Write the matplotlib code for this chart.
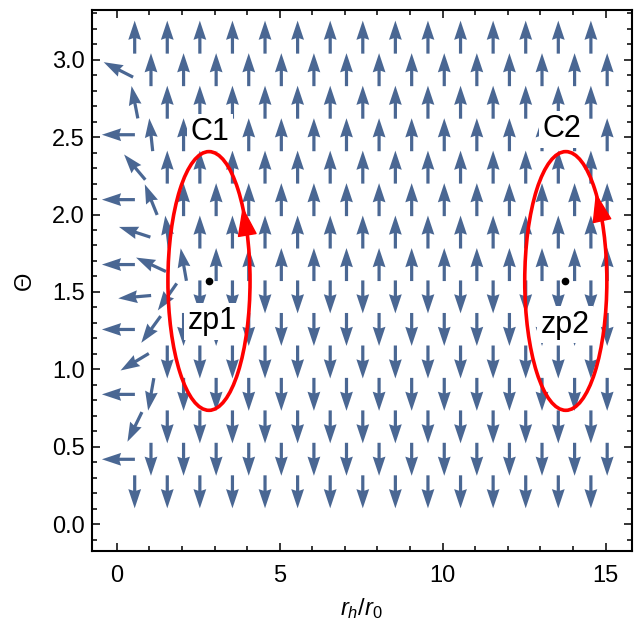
import numpy as np
import matplotlib.pyplot as plt
from matplotlib.patches import Ellipse

plt.rcParams['font.family'] = ['Liberation Sans', 'DejaVu Sans']
plt.rcParams['mathtext.fontset'] = 'custom'
plt.rcParams['mathtext.rm'] = 'Liberation Sans'
plt.rcParams['mathtext.it'] = 'Liberation Sans:italic'

# vector field on a staggered grid: one string per row of arrows (top to bottom)
theta_rows = [3.145, 2.935, 2.725, 2.515, 2.306, 2.096, 1.887, 1.677,
              1.468, 1.258, 1.048, 0.839, 0.629, 0.420, 0.210]
x_start = [0.55, 0.05, 0.55, 0.05, 0.55, 0.05, 0.55, 0.05,
           0.55, 0.05, 0.55, 0.05, 0.55, 0.05, 0.55]
rows = [
    "uuuuuuuuuuuuuuu",
    "auuuuuuuuuuuuuuu",
    "buuuuuuuuuuuuuu",
    "lcuuuuuuuuuuuuuu",
    "euuuuuuuuuuuuuu",
    "lfuuuuuuuuuuuuuu",
    "ghuuuuuuuuuuuuu",
    "lijuuuuuuuuuuuuu",
    "kmddddddddddddd",
    "lndddddddddddddd",
    "odddddddddddddd",
    "lpdddddddddddddd",
    "qdddddddddddddd",
    "lddddddddddddddd",
    "ddddddddddddddd",
]
# arrow direction (degrees) for each letter
angle = {'u': 90, 'd': 270, 'l': 180,
         'a': 153, 'b': 101, 'c': 96, 'e': 130, 'f': 112, 'g': 162,
         'h': 97, 'i': 155, 'j': 100, 'k': 185, 'm': 235, 'n': 234,
         'o': 211, 'p': 260, 'q': 244}

# zero points and the contours around them
zp_r = [2.84, 13.77]
zp_theta = [1.571, 1.571]
zp_names = ['zp1', 'zp2']
loop_names = ['C1', 'C2']
loop_r = [2.83, 13.78]
loop_half_w = [1.26, 1.26]
loop_half_h = [0.835, 0.835]
head_from = [20, 27]   # parametric angle of arrowhead base / tip (deg)
head_to = [35, 43]

arrow_col = '#4a6793'

xs, ys, us, vs = [], [], [], []
for th, x0, row in zip(theta_rows, x_start, rows):
    for k, c in enumerate(row):
        a = np.deg2rad(angle[c])
        xs.append(x0 + k)
        ys.append(th)
        us.append(np.cos(a))
        vs.append(np.sin(a))

fig = plt.figure(figsize=(6.38, 6.34), dpi=100)
ax = fig.add_axes([0.1442, 0.1314, 0.8458, 0.8528])

ax.quiver(xs, ys, us, vs, angles='uv', pivot='middle', scale_units='inches',
          scale=1 / 0.33, units='dots', width=3.2, headwidth=4.0,
          headlength=6.0, headaxislength=5.5, color=arrow_col, zorder=2)

for i in range(2):
    cx, cy = loop_r[i], zp_theta[i]
    aw, bh = loop_half_w[i], loop_half_h[i]
    ax.add_patch(Ellipse((cx, cy), 2 * aw, 2 * bh, fill=False, ec='red',
                         lw=2.6, zorder=5))
    t1, t2 = np.deg2rad(head_from[i]), np.deg2rad(head_to[i])
    ax.annotate('', xy=(cx + aw * np.cos(t2), cy + bh * np.sin(t2)),
                xytext=(cx + aw * np.cos(t1), cy + bh * np.sin(t1)),
                arrowprops=dict(arrowstyle='-|>,head_length=0.95,head_width=0.32',
                                mutation_scale=20, color='red', lw=1,
                                shrinkA=0, shrinkB=0), zorder=6)

ax.plot(zp_r, zp_theta, 'o', color='black', ms=4.5, zorder=6)

box = dict(boxstyle='square,pad=0.12', fc='white', ec='none')
ax.text(2.87, 2.53, loop_names[0], fontsize=22, ha='center', va='center', bbox=box, zorder=4)
ax.text(13.66, 2.55, loop_names[1], fontsize=22, ha='center', va='center', bbox=box, zorder=4)
ax.text(2.93, 1.31, zp_names[0], fontsize=22, ha='center', va='center', bbox=box, zorder=4)
ax.text(13.75, 1.29, zp_names[1], fontsize=22, ha='center', va='center', bbox=box, zorder=4)

ax.set_xlim(-0.76, 15.8)
ax.set_ylim(-0.17, 3.32)
ax.set_xticks([0, 5, 10, 15])
ax.set_xticks(np.arange(0, 16, 1), minor=True)
ax.set_yticks(np.arange(0, 3.01, 0.5))
ax.set_yticks(np.arange(-0.1, 3.31, 0.1), minor=True)
ax.set_yticklabels(['%.1f' % v for v in np.arange(0, 3.01, 0.5)])
ax.tick_params(which='both', direction='in', top=True, right=True,
               labelsize=17, width=1.1)
ax.tick_params(which='major', length=6)
ax.tick_params(which='minor', length=3.5)
ax.tick_params(axis='x', pad=10)
ax.tick_params(axis='y', pad=5)
for s in ax.spines.values():
    s.set_linewidth(1.5)

ax.set_xlabel(r'$r_h/r_0$', fontsize=17, labelpad=7)
ax.set_ylabel('Θ', fontsize=17, labelpad=12)

plt.savefig('out.png', dpi=100)
